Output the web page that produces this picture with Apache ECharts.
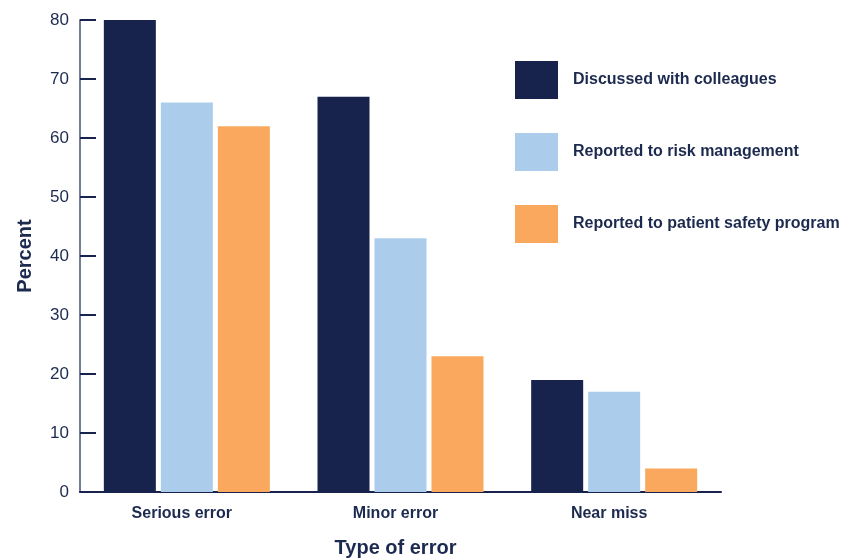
<!DOCTYPE html>
<html>
<head>
<meta charset="utf-8">
<script src="https://cdn.jsdelivr.net/npm/echarts@6/dist/echarts.min.js"></script>
<style>
  html, body { margin: 0; padding: 0; background: #ffffff; }
  #chart { width: 844px; height: 560px; }
</style>
</head>
<body>
<div id="chart"></div>
<script>
// Categories and percentages for each reporting behaviour
const categories = ['Serious error', 'Minor error', 'Near miss'];
const discussedWithColleagues = [80, 67, 19];
const reportedToRiskManagement = [66, 43, 17];
const reportedToPatientSafety = [62, 23, 4];
const seriesNames = [
  'Discussed with colleagues',
  'Reported to risk management',
  'Reported to patient safety program'
];
const yTicks = { min: 0, max: 80, interval: 10 };

const NAVY = '#17234d';
const LIGHT = '#abcdeb';
const ORANGE = '#f9a85e';
const TEXT = '#1c2a4f';
const SANS = '"Liberation Sans", Arial, sans-serif';

const chart = echarts.init(document.getElementById('chart'), null, { renderer: 'canvas' });

const barStyle = (name, data, color) => ({
  name: name,
  type: 'bar',
  data: data,
  barWidth: 52,
  barGap: '9.6%',
  itemStyle: { color: color },
  emphasis: { disabled: true }
});

chart.setOption({
  animation: false,
  grid: { left: 80, top: 20, width: 641, bottom: 68, containLabel: false, outerBoundsMode: 'none' },
  legend: {
    orient: 'vertical',
    left: 515,
    top: 61,
    padding: 0,
    itemWidth: 43,
    itemHeight: 38,
    itemGap: 34,
    icon: 'rect',
    selectedMode: false,
    textStyle: { color: TEXT, fontFamily: SANS, fontWeight: 'bold', fontSize: 16, padding: [0, 0, 0, 10] },
    data: seriesNames
  },
  xAxis: {
    type: 'category',
    data: categories,
    name: 'Type of error',
    nameLocation: 'middle',
    nameGap: 46,
    nameTextStyle: { color: TEXT, fontFamily: SANS, fontWeight: 'bold', fontSize: 20, padding: [0, 10, 0, 0] },
    axisLine: { lineStyle: { color: NAVY, width: 2 } },
    axisTick: { inside: true, length: 12, lineStyle: { color: NAVY, width: 2 } },
    axisLabel: { color: TEXT, fontFamily: SANS, fontWeight: 'bold', fontSize: 16, margin: 14, padding: [0, 10, 0, 0] }
  },
  yAxis: {
    type: 'value',
    min: yTicks.min,
    max: yTicks.max,
    interval: yTicks.interval,
    name: 'Percent',
    nameLocation: 'middle',
    nameGap: 45,
    nameTextStyle: { color: TEXT, fontFamily: SANS, fontWeight: 'bold', fontSize: 20 },
    axisLine: { show: true, lineStyle: { color: '#737c99', width: 2 } },
    axisTick: { show: true, inside: true, length: 16, lineStyle: { color: NAVY, width: 2 } },
    axisLabel: { color: TEXT, fontFamily: SANS, fontSize: 17, margin: 11 },
    splitLine: { show: false }
  },
  series: [
    barStyle(seriesNames[0], discussedWithColleagues, NAVY),
    barStyle(seriesNames[1], reportedToRiskManagement, LIGHT),
    barStyle(seriesNames[2], reportedToPatientSafety, ORANGE)
  ]
});
</script>
</body>
</html>
